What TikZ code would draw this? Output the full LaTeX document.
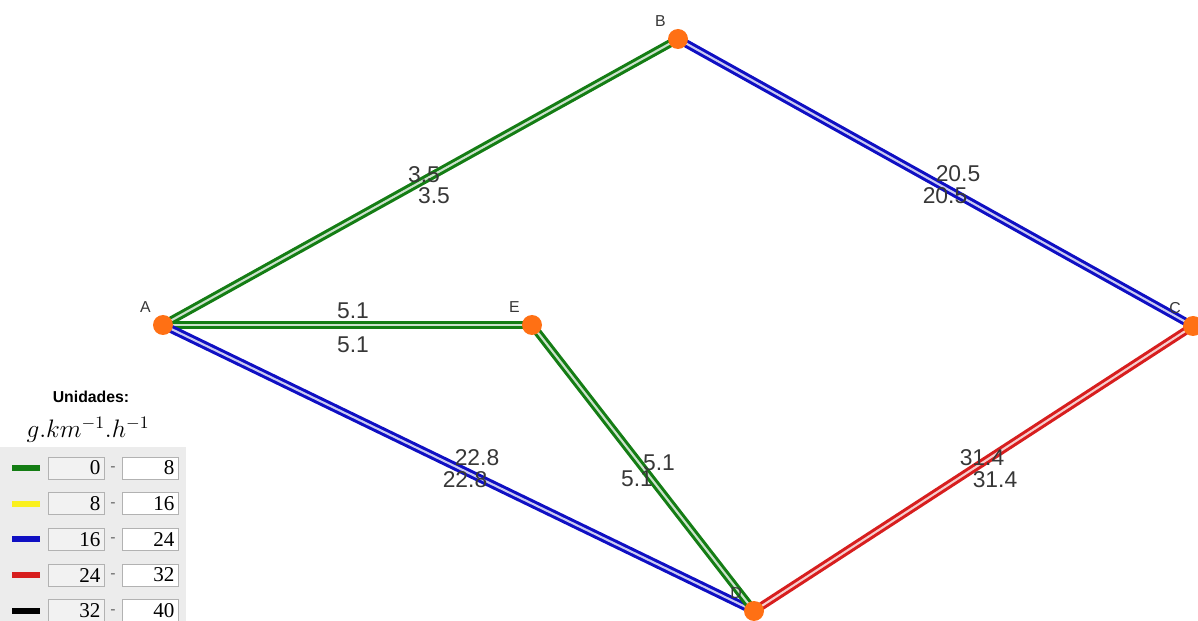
\documentclass[tikz,border=0pt]{standalone}
\usepackage{fontspec}
\usepackage{amsmath}
\usetikzlibrary{backgrounds,positioning}
\newfontfamily\sansf{Liberation Sans}
\newfontfamily\numf{Liberation Serif}
\definecolor{gsgreen}{RGB}{20,125,20}
\definecolor{gsyellow}{RGB}{250,240,30}
\definecolor{gsblue}{RGB}{15,15,195}
\definecolor{gsred}{RGB}{215,30,30}
\definecolor{gsorange}{RGB}{255,112,20}
\definecolor{gstext}{RGB}{55,55,55}
\definecolor{gspanel}{RGB}{236,236,236}
\begin{document}
\begin{tikzpicture}[x=0.02cm,y=-0.02cm,
    stop/.style={circle,fill=gsorange,minimum size=0.4cm,inner sep=0pt,
      label={[tag,label distance=-1pt]135:#1}},
    tag/.style={font=\sansf\fontsize{9}{10}\selectfont,text=gstext},
    load/.style={font=\sansf\fontsize{13}{15}\selectfont,text=gstext,inner sep=0pt},
    link/.style={line width=1.75pt,draw=#1,double=#1!22!white,double distance=1.2pt},
    rangebox/.style={draw=gray!60,minimum height=0.44cm,inner xsep=2pt,inner ysep=0pt,
      text width=0.98cm,align=right,font=\numf\fontsize{12}{13}\selectfont}]
  \useasboundingbox (0,0) rectangle (1198,621);
  % stations
  \node[stop=A] (A) at (163,325) {};
  \node[stop=B] (B) at (678,39) {};
  \node[stop=C] (C) at (1193,326) {};
  \node[stop=D] (D) at (754,611) {};
  \node[stop=E] (E) at (532,325) {};
  % links under the stations
  \begin{scope}[on background layer]
    \draw[link=gsgreen] (A.center) -- (B.center);
    \draw[link=gsblue] (B.center) -- (C.center);
    \draw[link=gsgreen] (A.center) -- (E.center);
    \draw[link=gsblue] (A.center) -- (D.center);
    \draw[link=gsgreen] (E.center) -- (D.center);
    \draw[link=gsred] (D.center) -- (C.center);
  \end{scope}
  % values per direction
  \node[load] (ab1) at (424,175) {3.5};
  \node[load] (ab2) at (434,196) {3.5};
  \node[load] (bc1) at (958,174) {20.5};
  \node[load] (bc2) at (945,196) {20.5};
  \node[load] (ae1) at (353,311) {5.1};
  \node[load] (ae2) at (353,345) {5.1};
  \node[load] (ad1) at (477,458) {22.8};
  \node[load] (ad2) at (465,480) {22.8};
  \node[load] (ed1) at (659,463) {5.1};
  \node[load] (ed2) at (637,479) {5.1};
  \node[load] (dc1) at (982,458) {31.4};
  \node[load] (dc2) at (995,480) {31.4};
  % legend
  \node[font=\sansf\bfseries\fontsize{9}{11}\selectfont] (units) at (91,397) {Unidades:};
  \node[font=\fontsize{14}{16}\selectfont] (unitexpr) at (88,430) {$g.km^{-1}.h^{-1}$};
  \fill[gspanel] (0,447) rectangle (186,621);
  \foreach \col/\lo/\hi [count=\i] in {gsgreen/0/8,gsyellow/8/16,gsblue/16/24,gsred/24/32,black/32/40}{
    \pgfmathsetmacro\yy{468+35.7*(\i-1)}
    \fill[\col] (12,\yy-3) rectangle (40,\yy+3);
    \node[rangebox,fill=gray!10] (lo\i) at (76,\yy) {\lo};
    \node[rangebox,fill=white] (hi\i) at (150,\yy) {\hi};
    \node[font=\sansf\fontsize{9}{10}\selectfont,text=gray!80!black] (dash\i) at (113,\yy+1) {-};
  }
\end{tikzpicture}
\end{document}
